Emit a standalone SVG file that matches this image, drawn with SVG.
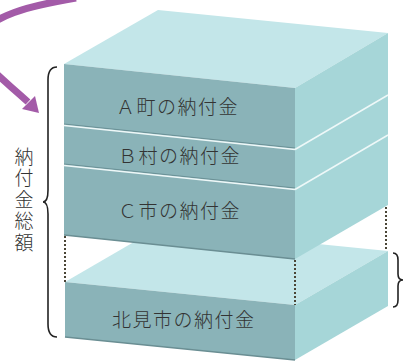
<svg xmlns="http://www.w3.org/2000/svg" width="406" height="361" viewBox="0 0 406 361">
<style>
.top{fill:#c3e6e9}
.front{fill:#8ab3b8}
.side{fill:#a6d6d8}
.sep{stroke:#eef8f8;stroke-width:1.5;fill:none}
.sepd{stroke:#6b9196;stroke-width:1.2;fill:none}
.edge{stroke:#6a8e93;stroke-width:1.6;fill:none}
.dot{stroke:#4a4536;stroke-width:2;stroke-dasharray:2 2;fill:none}
.lbl{font-family:"Noto Sans CJK JP","Noto Sans",sans-serif;font-size:19px;font-weight:300;fill:#333;letter-spacing:1.5px}
.brace{stroke:#222;stroke-width:1.6;fill:none}
</style>
<g id="lower-block">
<polygon class="top" points="65,282 295,305 388,251 158,228"/>
<polygon class="front" points="65,282 295,305 295,360 65,337"/>
<polygon class="side" points="295,305 388,251 388,306 295,360"/>
<line class="edge" x1="65" y1="337" x2="295" y2="360"/>
<text class="lbl" x="112" y="327">北見市の納付金</text>
</g>
<g id="connectors">
<line class="dot" x1="65" y1="236" x2="65" y2="282"/>
<line class="dot" x1="295" y1="260" x2="295" y2="305"/>
<line class="dot" x1="386" y1="207" x2="386" y2="251"/>
</g>
<g id="upper-block">
<polygon class="top" points="64,64 295,88 388,33 158,10"/>
<polygon class="front" points="64,64 295,88 295,259 64,235"/>
<polygon class="side" points="295,88 388,33 388,205 295,259"/>
<line class="edge" x1="64" y1="235" x2="295" y2="259"/>
</g>
<g id="layer-a">
<text class="lbl" x="116" y="114">Ａ町の納付金</text>
</g>
<g id="layer-b">
<line class="sepd" x1="64" y1="124" x2="295" y2="148"/>
<line class="sep" x1="64" y1="125.5" x2="295" y2="149.5"/>
<line class="sep" x1="295" y1="149.5" x2="388" y2="95"/>
<text class="lbl" x="118" y="163">Ｂ村の納付金</text>
</g>
<g id="layer-c">
<line class="sepd" x1="64" y1="164" x2="295" y2="188"/>
<line class="sep" x1="64" y1="165.5" x2="295" y2="189.5"/>
<line class="sep" x1="295" y1="189.5" x2="388" y2="135"/>
<text class="lbl" x="118" y="218">Ｃ市の納付金</text>
</g>
<g id="total-label">
<path class="brace" d="M57,67 Q48,67 48,80 L48,190 Q48,202 43,202 Q48,202 48,214 L48,324 Q48,337 57,337"/>
<text class="lbl" x="24" y="147" style="writing-mode:vertical-rl;letter-spacing:2.5px;font-size:19px">納付金総額</text>
</g>
<g id="right-brace">
<path class="brace" d="M393,253 Q398,253 398,260 L398,274 Q398,280 403,280 Q398,280 398,286 L398,300 Q398,307 393,307"/>
</g>
<g id="arrow">
<path d="M76,-2 C40,4 -20,15 -22,45 C -22,62 2,78 28,102" fill="none" stroke="#a35ba8" stroke-width="7"/>
<polygon points="39,113 22,109 35,96" fill="#a35ba8"/>
</g>
</svg>
